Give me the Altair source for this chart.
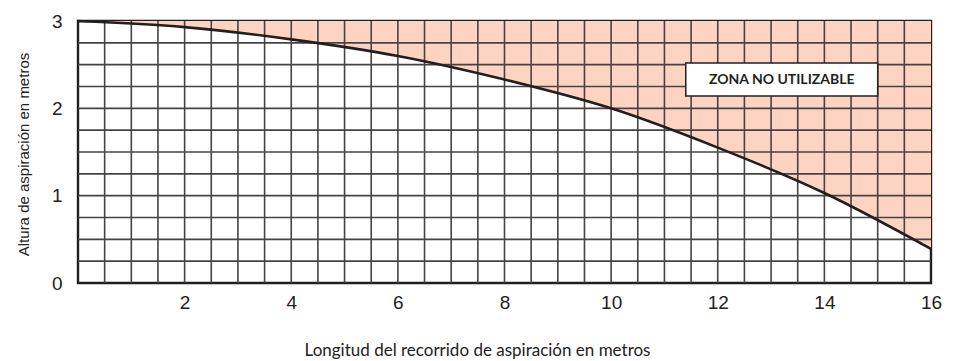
import altair as alt
import pandas as pd

# Curve: suction length (m) vs max suction height (m)
curve_x = [0, 2, 4, 6, 8, 10, 12, 14, 16]
curve_y = [3.0, 2.93, 2.79, 2.6, 2.33, 2.0, 1.55, 1.03, 0.39]

x_ticks = [2, 4, 6, 8, 10, 12, 14, 16]
y_ticks = [0, 1, 2, 3]
grid_x = [i * 0.5 for i in range(1, 32)]
grid_y = [i * 0.25 for i in range(1, 12)]

zone_label = "ZONA NO UTILIZABLE"
zone_box = {"x": 11.4, "x2": 15.0, "y": 2.14, "y2": 2.52}

curve_df = pd.DataFrame({"x": curve_x, "y": curve_y})
gx_df = pd.DataFrame({"x": grid_x})
gy_df = pd.DataFrame({"y": grid_y})
box_df = pd.DataFrame([zone_box])
lbl_df = pd.DataFrame({"x": [(zone_box["x"] + zone_box["x2"]) / 2],
                       "y": [(zone_box["y"] + zone_box["y2"]) / 2],
                       "t": [zone_label]})

xs = alt.Scale(domain=[0, 16], nice=False, zero=False)
ys = alt.Scale(domain=[0, 3], nice=False, zero=False)

x_title = "Longitud del recorrido de aspiración en metros"
y_title = "Altura de aspiración en metros"

x_axis = alt.Axis(values=x_ticks, format="d", grid=False, ticks=False, domain=False,
                  labelFont="Liberation Sans", labelFontSize=19, labelColor="#222",
                  labelFontWeight="normal", labelFlush=False,
                  labelPadding=10, title=x_title,
                  titleFont="Lato", titleFontSize=17, titleFontWeight="normal",
                  titleColor="#222", titleX=399, titleY=72, titleAlign="center",
                  titleBaseline="alphabetic")
y_axis = alt.Axis(values=y_ticks, format="d", grid=False, ticks=False, domain=False,
                  labelFont="Liberation Sans", labelFontSize=19, labelColor="#222",
                  labelFontWeight="normal", labelFlush=False,
                  labelPadding=16, title=y_title,
                  titleFont="Liberation Sans", titleFontSize=15, titleFontWeight="normal",
                  titleColor="#222", titleX=-55, titleY=133, titleAngle=270,
                  titleAlign="center", titleBaseline="middle")

X = alt.X("x:Q", scale=xs, axis=x_axis, title=x_title)
Y = alt.Y("y:Q", scale=ys, axis=y_axis, title=y_title)

area = alt.Chart(curve_df).mark_area(color="#fdd3c1", interpolate="monotone").encode(
    x=X, y=Y, y2=alt.datum(3),
)

vgrid = alt.Chart(gx_df).mark_rule(color="#444", strokeWidth=1.6).encode(x=X)
hgrid = alt.Chart(gy_df).mark_rule(color="#444", strokeWidth=1.6).encode(y=Y)

line = alt.Chart(curve_df).mark_line(color="#231f20", strokeWidth=2.6,
                                     interpolate="monotone").encode(x=X, y=Y)

box = alt.Chart(box_df).mark_rect(fill="white", stroke="#231f20", strokeWidth=1.5).encode(
    x=X, x2="x2:Q", y=Y, y2="y2:Q",
)
label = alt.Chart(lbl_df).mark_text(font="Lato", fontWeight="bold", fontSize=14,
                                    color="#231f20").encode(x=X, y=Y, text="t:N")

chart = alt.layer(area, vgrid, hgrid, line, box, label).properties(
    width=853, height=262,
    autosize=alt.AutoSizeParams(type="none"),
    padding={"left": 70, "top": 13, "right": 15, "bottom": 80},
).configure_view(stroke="#231f20", strokeWidth=2.4)

chart.save("out.html", embed_options={"renderer": "svg", "actions": False})
